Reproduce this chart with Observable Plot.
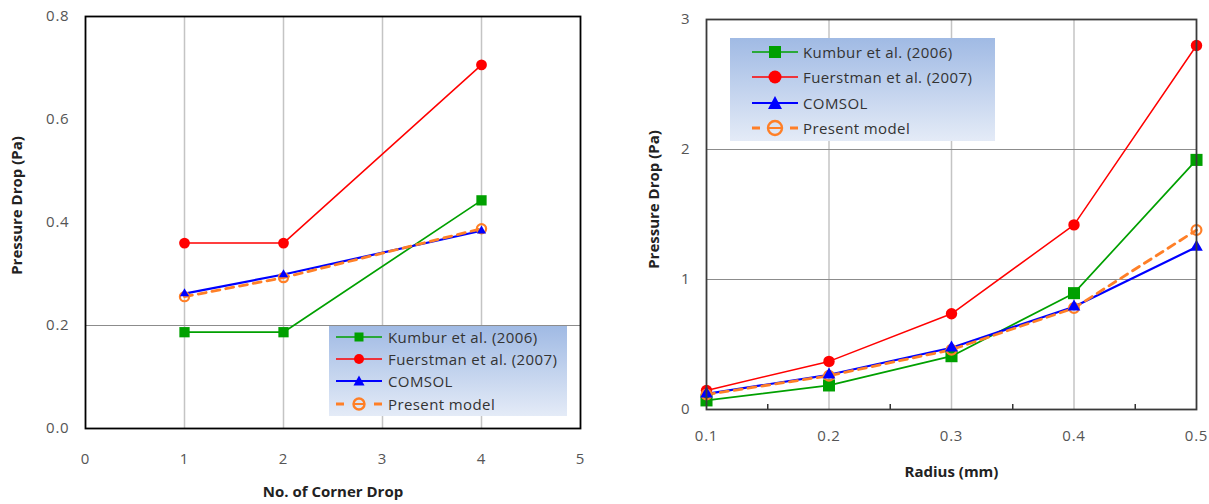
<!DOCTYPE html>
<html><head><meta charset="utf-8">
<script src="https://cdn.jsdelivr.net/npm/d3@7"></script>
<script src="https://cdn.jsdelivr.net/npm/@observablehq/plot@0.6"></script>
<style>
body{margin:0;background:#fff;width:1209px;height:504px;position:relative;overflow:hidden;font-family:"Open Sans", sans-serif;}
#left,#right{position:absolute;top:0}
#left{left:0}
#right{left:600px}
.legend{position:absolute;background:linear-gradient(#a0bae4,#e4ebf7);font-size:15px;letter-spacing:0.4px;color:#333;font-family:"Open Sans", sans-serif}
.legend .row{position:absolute;height:16px;display:flex;align-items:center;white-space:nowrap}
.legend svg{display:block;overflow:visible}
svg g[aria-label="x-axis tick label"] text, svg g[aria-label="y-axis tick label"] text{letter-spacing:0.8px}
</style></head><body>
<div id="left"></div><div id="right"></div>
<div class="legend" id="legL"></div><div class="legend" id="legR"></div>
<script>
// ---- data ----
const series = ["Kumbur et al. (2006)", "Fuerstman et al. (2007)", "COMSOL", "Present model"];
const colors = ["#00a000", "#ff0000", "#0000ff", "#ff7f27"];

// Left chart: pressure drop vs number of corner drops
const cornerDrops = [1, 2, 4];
const leftKumbur = [0.187, 0.187, 0.443];
const leftFuerstman = [0.360, 0.360, 0.706];
const leftComsol = [0.262, 0.299, 0.384];
const leftPresent = [0.256, 0.293, 0.388];
const leftXTicks = [0, 1, 2, 3, 4, 5];
const leftYTicks = [0, 0.2, 0.4, 0.6, 0.8];
const leftVGrid = [1, 2, 3, 4];
const leftHGrid = [0.2];

// Right chart: pressure drop vs radius
const radius = [0.1, 0.2, 0.3, 0.4, 0.5];
const rightKumbur = [0.07, 0.185, 0.41, 0.895, 1.92];
const rightFuerstman = [0.146, 0.37, 0.736, 1.42, 2.80];
const rightComsol = [0.12, 0.267, 0.475, 0.79, 1.25];
const rightPresent = [0.115, 0.26, 0.46, 0.78, 1.38];
const rightXTicks = [0.1, 0.2, 0.3, 0.4, 0.5];
const rightMinorTicks = [0.15, 0.25, 0.35, 0.45];
const rightYTicks = [0, 1, 2, 3];
const rightVGrid = [0.2, 0.3, 0.4];
const rightHGrid = [1, 2];

function rows(xs, ys, s) { return xs.map((x, i) => ({x, y: ys[i], s})); }

const leftData = [
  rows(cornerDrops, leftKumbur, 0), rows(cornerDrops, leftFuerstman, 1),
  rows(cornerDrops, leftComsol, 2), rows(cornerDrops, leftPresent, 3)];
const rightData = [
  rows(radius, rightKumbur, 0), rows(radius, rightFuerstman, 1),
  rows(radius, rightComsol, 2), rows(radius, rightPresent, 3)];

function seriesMarks(data, sz) {
  const [K, F, C, P] = data;
  return [
    Plot.line(K, {x: "x", y: "y", stroke: colors[0], strokeWidth: 1.7}),
    Plot.line(F, {x: "x", y: "y", stroke: colors[1], strokeWidth: 1.5}),
    Plot.line(C, {x: "x", y: "y", stroke: colors[2], strokeWidth: 2.2}),
    Plot.line(P, {x: "x", y: "y", stroke: colors[3], strokeWidth: 2.8, strokeDasharray: "8,6"}),
    Plot.dot(K, {x: "x", y: "y", symbol: "square", r: sz.sq, fill: colors[0]}),
    Plot.dot(F, {x: "x", y: "y", symbol: "circle", r: sz.ci, fill: colors[1]}),
    Plot.dot(P, {x: "x", y: "y", symbol: "circle", r: sz.op, fill: "none", stroke: colors[3], strokeWidth: 2.2}),
    Plot.dot(C, {x: "x", y: "y", symbol: "triangle", r: sz.tr, fill: colors[2]})
  ];
}

const titleStyle = {fontWeight: "bold", fontSize: 15, fill: "#222"};

const L = Plot.plot({
  width: 600, height: 504,
  marginLeft: 85, marginRight: 20, marginTop: 16, marginBottom: 76,
  style: {fontFamily: "'Open Sans', sans-serif", fontSize: "15px", color: "#555", background: "transparent"},
  x: {domain: [0, 5], ticks: leftXTicks, tickSize: 0, tickPadding: 25, label: null, tickFormat: d3.format("d")},
  y: {domain: [0, 0.8], ticks: leftYTicks, tickSize: 0, tickPadding: 16, label: null, tickFormat: d3.format(".1f")},
  marks: [
    Plot.ruleX(leftVGrid, {stroke: "#c4c4c4", strokeWidth: 1.5}),
    Plot.ruleY(leftHGrid, {stroke: "#8c8c8c", strokeWidth: 1.2}),
    ...seriesMarks(leftData, {sq: 5.8, ci: 5.4, op: 4.6, tr: 3.4}),
    Plot.frame({stroke: "#000", strokeWidth: 1.8}),
    Plot.text(["No. of Corner Drop"], {frameAnchor: "bottom", dy: 68, ...titleStyle}),
    Plot.text(["Pressure Drop (Pa)"], {frameAnchor: "left", textAnchor: "middle", dx: -68, dy: -17, rotate: -90, ...titleStyle})
  ]
});
document.getElementById("left").appendChild(L);

const R = Plot.plot({
  width: 609, height: 504,
  marginLeft: 106, marginRight: 13, marginTop: 19, marginBottom: 95,
  style: {fontFamily: "'Open Sans', sans-serif", fontSize: "15px", color: "#555", background: "transparent"},
  x: {domain: [0.1, 0.5], ticks: rightXTicks, tickSize: 0, tickPadding: 21, label: null, tickFormat: d3.format(".1f")},
  y: {domain: [0, 3], ticks: rightYTicks, tickSize: 0, tickPadding: 16, label: null, tickFormat: d3.format("d")},
  marks: [
    Plot.ruleX(rightVGrid, {stroke: "#c4c4c4", strokeWidth: 1.5}),
    Plot.ruleY(rightHGrid, {stroke: "#8c8c8c", strokeWidth: 1.2}),
    Plot.tickX(rightMinorTicks, {x: d => d, stroke: "#333", strokeWidth: 1.5, insetTop: 385}),
    ...seriesMarks(rightData, {sq: 6.8, ci: 5.7, op: 4.9, tr: 4.7}),
    Plot.frame({stroke: "#3a3a3a", strokeWidth: 1.8}),
    Plot.text(["Radius (mm)"], {frameAnchor: "bottom", dy: 67, ...titleStyle}),
    Plot.text(["Pressure Drop (Pa)"], {frameAnchor: "left", textAnchor: "middle", dx: -52, dy: -15, rotate: -90, ...titleStyle})
  ]
});
document.getElementById("right").appendChild(R);

// ---- legends ----
function swatch(i, k) {
  const c = colors[i];
  const line = i === 3
    ? `<line x1="0" x2="8" y1="8" y2="8" stroke="${c}" stroke-width="3"/><line x1="38" x2="46" y1="8" y2="8" stroke="${c}" stroke-width="3"/>`
    : `<line x1="0" x2="46" y1="8" y2="8" stroke="${c}" stroke-width="${i === 2 ? 2.2 : 1.7}"/>`;
  const h = k / 2;
  let m;
  if (i === 0) m = `<rect x="${23 - h}" y="${8 - h}" width="${k}" height="${k}" fill="${c}"/>`;
  else if (i === 1) m = `<circle cx="23" cy="8" r="${h + 0.5}" fill="${c}"/>`;
  else if (i === 2) m = `<path d="M23,${8 - h - 1} L${23 + h + 1},${8 + h} L${23 - h - 1},${8 + h} Z" fill="${c}"/>`;
  else m = `<circle cx="23" cy="8" r="${h + 1}" fill="none" stroke="${c}" stroke-width="2.4"/><line x1="${23 - h - 1}" x2="${23 + h + 1}" y1="8" y2="8" stroke="${c}" stroke-width="2"/>`;
  return `<svg width="46" height="16">${line}${m}</svg>`;
}
function legend(id, box, rowYs, swX, textGap, k) {
  const el = document.getElementById(id);
  Object.assign(el.style, {left: box[0] + "px", top: box[1] + "px", width: box[2] + "px", height: box[3] + "px"});
  series.forEach((s, i) => {
    const r = document.createElement("div");
    r.className = "row";
    r.style.left = swX + "px";
    r.style.top = (rowYs[i] - 8) + "px";
    r.innerHTML = swatch(i, k) + `<span style="margin-left:${textGap}px">${s}</span>`;
    el.appendChild(r);
  });
}
legend("legL", [329, 326, 238, 90], [11, 33, 55, 78], 7, 6, 9);
legend("legR", [730, 38, 265, 103], [14, 39, 65, 90], 22, 5, 12);
</script>
</body></html>
